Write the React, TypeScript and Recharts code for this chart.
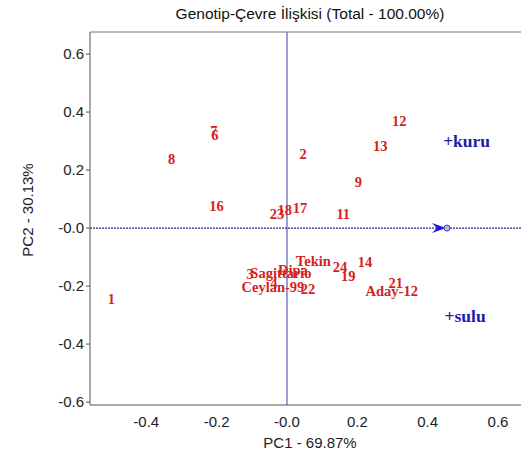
import { ScatterChart, Scatter, XAxis, YAxis, ReferenceLine } from 'recharts';

const genotypes = ['1', '2', '3', '4', '6', '7', '8', '9', '11', '12', '13', '14', '16', '17', '18', '19', '21', '22', '23', '24', 'Tekin', 'Sagittario', 'Dipa', 'Ceylan-99', 'Aday-12'];
const genotypePC1 = [-0.499, 0.046, -0.105, -0.037, -0.205, -0.208, -0.328, 0.203, 0.16, 0.319, 0.265, 0.222, -0.2, 0.037, -0.006, 0.174, 0.309, 0.06, -0.028, 0.151, 0.075, -0.017, 0.017, -0.04, 0.298];
const genotypePC2 = [-0.243, 0.255, -0.159, -0.19, 0.321, 0.334, 0.238, 0.16, 0.048, 0.369, 0.284, -0.118, 0.076, 0.068, 0.061, -0.166, -0.189, -0.21, 0.049, -0.133, -0.113, -0.155, -0.145, -0.202, -0.217];

const environments = ['+kuru', '+sulu'];
const envPC1 = [0.444, 0.448];
const envPC2 = [0.3, -0.303];

const meanEnvPC1 = [0.455];
const meanEnvPC2 = [0];

const xTicks = [-0.4, -0.2, 0, 0.2, 0.4, 0.6];
const yTicks = [-0.6, -0.4, -0.2, 0, 0.2, 0.4, 0.6];

const genotypeData = genotypes.map((name, i) => ({ name, x: genotypePC1[i], y: genotypePC2[i] }));
const envData = environments.map((name, i) => ({ name, x: envPC1[i], y: envPC2[i] }));
const vectorData = meanEnvPC1.map((x, i) => ({ x, y: meanEnvPC2[i] }));

const fmt = (v: number) => (v === 0 ? '-0.0' : v.toFixed(1));

const GenotypeLabel = (props: any) => (
  <text
    x={props.cx}
    y={props.cy}
    textAnchor="middle"
    dominantBaseline="central"
    fill="#d42222"
    fontFamily="'Liberation Serif', serif"
    fontWeight="bold"
    fontSize={14.5}
  >
    {props.payload.name}
  </text>
);

const EnvLabel = (props: any) => (
  <text
    x={props.cx}
    y={props.cy}
    textAnchor="start"
    dominantBaseline="central"
    fill="#1c1ca8"
    fontFamily="'Liberation Serif', serif"
    fontWeight="bold"
    fontSize={17.5}
  >
    {props.payload.name}
  </text>
);

const ArrowHead = (props: any) => {
  const { cx, cy } = props;
  return (
    <g>
      <polygon
        points={`${cx - 15},${cy - 5} ${cx - 1},${cy} ${cx - 15},${cy + 5} ${cx - 10},${cy}`}
        fill="#1a1ad0"
      />
      <circle cx={cx} cy={cy} r={3} fill="#b8b8e0" stroke="#3a3ab0" strokeWidth={1} />
    </g>
  );
};

const sans = "'Liberation Sans', Arial, sans-serif";

export default function App() {
  return (
    <div style={{ position: 'absolute', left: 0, top: 0, width: 521, height: 453, overflow: 'hidden', background: '#fff' }}>
      <div style={{ position: 'absolute', left: 0, top: 5, width: 620, textAlign: 'center', fontFamily: sans, fontSize: 15.5, color: '#111' }}>
        Genotip-Çevre İlişkisi (Total - 100.00%)
      </div>
      <ScatterChart width={530} height={453} margin={{ top: 32, right: 0, bottom: 0, left: 0 }}>
        <XAxis
          type="number"
          dataKey="x"
          domain={[-0.56, 0.691]}
          ticks={xTicks}
          tickFormatter={fmt}
          tickLine={false}
          height={48}
          stroke="#555"
          tick={{ fill: '#222', fontSize: 15, fontFamily: sans }}
          tickMargin={5}
          allowDataOverflow
          label={() => (
            <text x={310} y={442} textAnchor="middle" dominantBaseline="central" fill="#222" fontSize={15} fontFamily={sans}>
              PC1 - 69.87%
            </text>
          )}
        />
        <YAxis
          type="number"
          dataKey="y"
          domain={[-0.61, 0.676]}
          ticks={yTicks}
          tickFormatter={fmt}
          width={90}
          tickSize={4}
          tickMargin={2}
          stroke="#555"
          tick={{ fill: '#222', fontSize: 15, fontFamily: sans }}
          allowDataOverflow
          label={() => (
            <text
              x={27}
              y={210}
              textAnchor="middle"
              dominantBaseline="central"
              fill="#222"
              fontSize={15}
              fontFamily={sans}
              transform="rotate(-90 27 210)"
            >
              PC2 - 30.13%
            </text>
          )}
        />
        <ReferenceLine y={0.676} stroke="#777" strokeWidth={1} />
        <ReferenceLine x={0} stroke="#7b7bc0" strokeWidth={1.5} />
        <ReferenceLine y={0} stroke="#2a2a88" strokeWidth={1.2} strokeDasharray="2 1" />
        <Scatter data={vectorData} shape={ArrowHead} isAnimationActive={false} />
        <Scatter data={genotypeData} shape={GenotypeLabel} isAnimationActive={false} />
        <Scatter data={envData} shape={EnvLabel} isAnimationActive={false} />
      </ScatterChart>
    </div>
  );
}
